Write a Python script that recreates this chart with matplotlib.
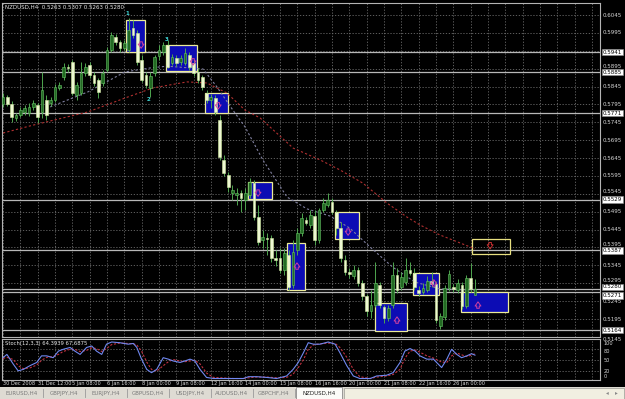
import matplotlib
matplotlib.use("Agg")
import matplotlib.pyplot as plt
import matplotlib.transforms as mtransforms
from matplotlib.patches import Rectangle

# ---------------- data ----------------
title_text = "NZDUSD,H4  0.5263 0.5307 0.5263 0.5280"
stoch_text = "Stoch(12,3,3) 64.3939 67.6875"

opens = [0.5796, 0.5816, 0.5796, 0.5757, 0.5765, 0.5774, 0.5771, 0.5788, 0.5793, 0.5774,
         0.5807, 0.5799, 0.5807, 0.5841, 0.5872, 0.5900, 0.5914, 0.5821, 0.5827, 0.5883,
         0.5905, 0.5877, 0.5863, 0.5855, 0.5891, 0.5947, 0.5983, 0.5970, 0.5953, 0.5947,
         0.6009, 0.5995, 0.5919, 0.5877, 0.5841, 0.5883, 0.5930, 0.5942, 0.5961, 0.5911,
         0.5925, 0.5914, 0.5911, 0.5933, 0.5911, 0.5886, 0.5872, 0.5827, 0.5807, 0.5813,
         0.5751, 0.5640, 0.5598, 0.5547, 0.5542, 0.5547, 0.5528, 0.5542, 0.5575, 0.5480,
         0.5416, 0.5421, 0.5421, 0.5366, 0.5366, 0.5332, 0.5374, 0.5290, 0.5388, 0.5435,
         0.5472, 0.5458, 0.5483, 0.5416, 0.5500, 0.5514, 0.5522, 0.5494, 0.5449, 0.5360,
         0.5326, 0.5315, 0.5332, 0.5296, 0.5259, 0.5217, 0.5234, 0.5290, 0.5229, 0.5198,
         0.5234, 0.5318, 0.5284, 0.5298, 0.5332, 0.5324, 0.5276, 0.5270, 0.5276, 0.5301,
         0.5293, 0.5175, 0.5200, 0.5282, 0.5284, 0.5276, 0.5290, 0.5231, 0.5310, 0.5263]
highs = [0.5827, 0.5821, 0.5804, 0.5771, 0.5788, 0.5793, 0.5799, 0.5807, 0.5799, 0.5886,
         0.5821, 0.5816, 0.5852, 0.5858, 0.5911, 0.5908, 0.5919, 0.5858, 0.5914, 0.5911,
         0.5914, 0.5886, 0.5869, 0.5891, 0.5956, 0.5997, 0.5992, 0.5975, 0.5975, 0.6037,
         0.6031, 0.6003, 0.5933, 0.5886, 0.5886, 0.5933, 0.5961, 0.5970, 0.5975, 0.5936,
         0.5933, 0.5933, 0.5953, 0.5942, 0.5919, 0.5897, 0.5877, 0.5835, 0.5824, 0.5821,
         0.5765, 0.5654, 0.5606, 0.5570, 0.5561, 0.5556, 0.5561, 0.5589, 0.5584, 0.5514,
         0.5444, 0.5435, 0.5430, 0.5388, 0.5394, 0.5394, 0.5388, 0.5416, 0.5449, 0.5491,
         0.5480, 0.5500, 0.5500, 0.5505, 0.5533, 0.5547, 0.5533, 0.5500, 0.5466, 0.5374,
         0.5338, 0.5346, 0.5340, 0.5304, 0.5265, 0.5276, 0.5354, 0.5298, 0.5234, 0.5234,
         0.5354, 0.5338, 0.5326, 0.5366, 0.5354, 0.5338, 0.5287, 0.5296, 0.5315, 0.5326,
         0.5301, 0.5212, 0.5290, 0.5332, 0.5293, 0.5307, 0.5298, 0.5318, 0.5352, 0.5307]
lows = [0.5788, 0.5791, 0.5746, 0.5749, 0.5760, 0.5765, 0.5763, 0.5779, 0.5743, 0.5757,
        0.5751, 0.5791, 0.5802, 0.5835, 0.5863, 0.5886, 0.5821, 0.5807, 0.5821, 0.5874,
        0.5869, 0.5846, 0.5813, 0.5846, 0.5886, 0.5942, 0.5961, 0.5942, 0.5947, 0.5942,
        0.5981, 0.5905, 0.5858, 0.5841, 0.5816, 0.5874, 0.5919, 0.5933, 0.5897, 0.5905,
        0.5902, 0.5905, 0.5905, 0.5891, 0.5874, 0.5855, 0.5835, 0.5799, 0.5785, 0.5765,
        0.5640, 0.5595, 0.5550, 0.5528, 0.5514, 0.5494, 0.5500, 0.5533, 0.5472, 0.5402,
        0.5394, 0.5374, 0.5354, 0.5343, 0.5324, 0.5318, 0.5276, 0.5282, 0.5374, 0.5427,
        0.5458, 0.5449, 0.5402, 0.5407, 0.5494, 0.5508, 0.5489, 0.5430, 0.5354, 0.5318,
        0.5310, 0.5307, 0.5287, 0.5248, 0.5203, 0.5198, 0.5229, 0.5226, 0.5184, 0.5189,
        0.5226, 0.5268, 0.5276, 0.5290, 0.5318, 0.5276, 0.5259, 0.5265, 0.5270, 0.5284,
        0.5184, 0.5166, 0.5192, 0.5273, 0.5270, 0.5268, 0.5223, 0.5226, 0.5270, 0.5263]
closes = [0.5816, 0.5796, 0.5760, 0.5765, 0.5779, 0.5785, 0.5788, 0.5799, 0.5760, 0.5835,
          0.5765, 0.5807, 0.5844, 0.5849, 0.5900, 0.5897, 0.5827, 0.5849, 0.5883, 0.5900,
          0.5877, 0.5855, 0.5830, 0.5883, 0.5947, 0.5989, 0.5970, 0.5953, 0.5967, 0.6003,
          0.5989, 0.5914, 0.5863, 0.5849, 0.5874, 0.5928, 0.5947, 0.5961, 0.5900, 0.5928,
          0.5911, 0.5925, 0.5939, 0.5900, 0.5883, 0.5863, 0.5844, 0.5807, 0.5816, 0.5774,
          0.5648, 0.5603, 0.5564, 0.5556, 0.5547, 0.5533, 0.5547, 0.5578, 0.5480, 0.5410,
          0.5424, 0.5419, 0.5366, 0.5360, 0.5332, 0.5380, 0.5284, 0.5382, 0.5435, 0.5477,
          0.5463, 0.5486, 0.5416, 0.5500, 0.5519, 0.5528, 0.5494, 0.5449, 0.5366, 0.5326,
          0.5321, 0.5332, 0.5296, 0.5259, 0.5217, 0.5234, 0.5296, 0.5234, 0.5198, 0.5226,
          0.5318, 0.5276, 0.5312, 0.5332, 0.5324, 0.5284, 0.5268, 0.5282, 0.5301, 0.5293,
          0.5192, 0.5203, 0.5282, 0.5321, 0.5279, 0.5296, 0.5231, 0.5310, 0.5279, 0.5280]

time_labels = ["30 Dec 2008", "31 Dec 12:00", "5 Jan 08:00", "6 Jan 16:00", "8 Jan 00:00",
               "9 Jan 08:00", "12 Jan 16:00", "14 Jan 00:00", "15 Jan 08:00", "16 Jan 16:00",
               "20 Jan 00:00", "21 Jan 08:00", "22 Jan 16:00", "26 Jan 00:00"]
time_label_bars = [0, 8, 16, 24, 32, 40, 48, 56, 64, 72, 80, 88, 96, 104]

price_ticks = [0.6045, 0.5995, 0.5945, 0.5895, 0.5845, 0.5795, 0.5745, 0.5695, 0.5645,
               0.5595, 0.5545, 0.5495, 0.5445, 0.5395, 0.5345, 0.5295, 0.5245, 0.5195, 0.5145]
level_prices = [0.5941, 0.5885, 0.5771, 0.5529, 0.5387, 0.5271, 0.5280, 0.5164]

ma_fast_x = [10.9, 19.6, 28.2, 34.0, 37.9, 46.2, 49.4, 53.1, 55.9, 60.0, 65.6, 70.2, 75.5,
             80.1, 84.8, 90.0, 95.2, 101.0, 109.0]
ma_fast_v = [0.5788, 0.5830, 0.5886, 0.5897, 0.5902, 0.5894, 0.5844, 0.5779, 0.5732, 0.5640,
             0.5536, 0.5503, 0.5483, 0.5449, 0.5396, 0.5340, 0.5298, 0.5279, 0.5276]
ma_slow_x = [0, 6.9, 14.8, 19.6, 28.2, 34.6, 42.5, 47.1, 51.7, 55.9, 59.4, 67.0, 73.2, 77.8,
             83.1, 88.7, 93.3, 96.3, 100.9, 105.5, 109.0]
ma_slow_v = [0.5715, 0.5737, 0.5760, 0.5774, 0.5813, 0.5841, 0.5858, 0.5855, 0.5827, 0.5779,
             0.5757, 0.5673, 0.5640, 0.5612, 0.5575, 0.5519, 0.5480, 0.5458, 0.5430, 0.5408, 0.5391]

stoch_x = [0, 0.9, 2.4, 3.5, 4.7, 6.2, 7.8, 8.9, 10.1, 11.6, 12.8, 13.9, 15.5, 16.6, 17.8,
           19.3, 20.5, 21.6, 22.8, 23.9, 25.1, 27, 28.9, 30.1, 30.9, 32, 33.2, 34.3, 35.5,
           37, 38.2, 39.3, 40.9, 42, 43.2, 44.3, 45.5, 47, 48.6, 53.2, 55.5, 56.7, 58.6,
           60.9, 63.2, 65.5, 67, 68.2, 69.4, 70.5, 71.7, 73.2, 75.1, 76.7, 77.8, 79.4, 80.9,
           82.4, 84.8, 86.3, 88.6, 90.1, 91.7, 92.8, 94, 95.2, 96.3, 97.9, 99.4, 101.3,
           102.5, 103.6, 104.8, 105.9, 107.1, 108.2, 109]
stoch_main = [57, 66, 39, 21, 25, 35, 44, 62, 62, 57, 75, 80, 85, 75, 66, 85, 89, 75, 66, 94,
              100, 98, 94, 96, 85, 53, 25, 16, 25, 57, 53, 48, 44, 48, 53, 48, 25, 3, 0, 0,
              0, 5, 5, 3, 0, 7, 25, 44, 71, 98, 94, 94, 100, 94, 71, 35, 7, 0, 0, 7,
              9, 16, 44, 75, 82, 75, 62, 53, 53, 30, 53, 80, 66, 57, 62, 68, 64]
stoch_signal = [55, 58, 52, 35, 27, 29, 37, 50, 58, 60, 66, 74, 80, 80, 74, 77, 84, 82, 74, 82,
                93, 97, 96, 95, 92, 75, 45, 25, 20, 35, 46, 52, 48, 46, 48, 50, 40, 15, 3, 0,
                0, 2, 4, 4, 2, 3, 12, 30, 52, 80, 92, 95, 97, 96, 85, 58, 25, 5, 0, 4,
                7, 11, 25, 55, 75, 78, 72, 62, 56, 45, 44, 62, 70, 65, 60, 64, 68]
stoch_levels = [20, 50, 80]
stoch_scale_labels = [100, 80, 50, 20, 0]

zone_x0 = [28.4, 37.6, 46.7, 56.6, 65.6, 76.7, 85.9, 94.7, 105.8]
zone_x1 = [32.8, 44.8, 52.0, 62.1, 69.7, 82.2, 93.3, 100.7, 116.6]
zone_lo = [0.5942, 0.5888, 0.5771, 0.5530, 0.5276, 0.5419, 0.5161, 0.5262, 0.5215]
zone_hi = [0.6031, 0.5961, 0.5827, 0.5578, 0.5407, 0.5494, 0.5240, 0.5324, 0.5270]
arrow_x = [31.9, 43.9, 49.7, 58.9, 67.9, 79.7, 91.0, 99.5, 109.7]
arrow_y = [0.5961, 0.5914, 0.5791, 0.5547, 0.5343, 0.5438, 0.5192, 0.5296, 0.5234]
arrow_dir = ["down", "down", "down", "down", "up", "down", "up", "up", "up"]

target_x0, target_x1 = 108.3, 117.1
target_lo, target_hi = 0.5377, 0.5419
target_arrow_x, target_arrow_y = 112.5, 0.5400

wave_text = ["1", "2", "3"]
wave_x = [28.6, 33.7, 37.9]
wave_y = [0.6050, 0.5810, 0.5976]

tab_names = ["EURUSD,H4", "GBPJPY,H4", "EURJPY,H4", "GBPUSD,H4", "USDJPY,H4",
             "AUDUSD,H4", "GBPCHF,H4", "NZDUSD,H4"]

# ---------------- layout ----------------
W, H = 625, 399
fig = plt.figure(figsize=(W / 100, H / 100), dpi=100, facecolor="black")


def px_axes(x0, y0, x1, y1):
    return fig.add_axes([x0 / W, 1 - y1 / H, (x1 - x0) / W, (y1 - y0) / H])


BAR_PX = 4.33
ax = px_axes(2, 3, 600, 337)
ax_st = px_axes(2, 339, 600, 379.5)
for a in (ax, ax_st):
    a.set_facecolor("black")
    a.set_xticks([])
    a.set_yticks([])
    for s in a.spines.values():
        s.set_color("#b4b4b4")
        s.set_linewidth(0.8)
xmin = (2 - 3) / BAR_PX
xmax = (600 - 3) / BAR_PX
ax.set_xlim(xmin, xmax)
ax_st.set_xlim(xmin, xmax)
ax.set_ylim(0.51447, 0.60786)
ax_st.set_ylim(-2.7, 108.2)

grid_kw = dict(color="#6c6c6c", lw=0.6, linestyle=(0, (1.5, 2.0)), zorder=0.5)
for b in range(0, 140, 4):
    ax.axvline(b, **grid_kw)
    ax_st.axvline(b, **grid_kw)
for p in price_ticks:
    ax.axhline(p, **grid_kw)
for v in stoch_levels:
    ax_st.axhline(v, **grid_kw)

# level lines
for p in level_prices:
    ax.axhline(p, color="#b8b8b8", lw=0.9, zorder=1.5)

# zones
for x0, x1, lo, hi in zip(zone_x0, zone_x1, zone_lo, zone_hi):
    ax.add_patch(Rectangle((x0, lo), x1 - x0, hi - lo, facecolor="#0c0cb4",
                           edgecolor="#ecec98", lw=0.9, zorder=2))
ax.add_patch(Rectangle((target_x0, target_lo), target_x1 - target_x0, target_hi - target_lo,
                       facecolor="none", edgecolor="#e8e080", lw=0.9, zorder=2))

# moving averages
ax.plot(ma_slow_x, ma_slow_v, color="#b03030", lw=0.8, linestyle=(0, (2, 2)), zorder=2.5)
ax.plot(ma_fast_x, ma_fast_v, color="#8080a0", lw=0.8, linestyle=(0, (2, 2)), zorder=2.5)

# candles
xs = list(range(len(closes)))
ax.vlines(xs, lows, highs, colors="#4fa64f", lw=0.7, zorder=3)
bx, bb, bh, rx, rb, rh = [], [], [], [], [], []
for i, (o, c) in enumerate(zip(opens, closes)):
    h = max(abs(c - o), 0.00005)
    if c >= o:
        bx.append(i); bb.append(o); bh.append(h)
    else:
        rx.append(i); rb.append(c); rh.append(h)
ax.bar(bx, bh, bottom=bb, width=0.62, color="#236b23", edgecolor="#66c466", lw=0.4, zorder=4)
ax.bar(rx, rh, bottom=rb, width=0.62, color="#eef8d2", edgecolor="#cfe8a0", lw=0.4, zorder=4)


# hollow arrows (signal marks)
def draw_arrow(x, y, direction, color):
    half = 0.0009
    head = y - half if direction == "down" else y + half
    tail = y + half if direction == "down" else y - half
    ax.annotate("", xy=(x, head), xytext=(x, tail),
                arrowprops=dict(arrowstyle="simple,head_length=0.5,head_width=0.7,tail_width=0.3",
                                facecolor="none", edgecolor=color, lw=0.7,
                                shrinkA=0, shrinkB=0, mutation_scale=6),
                zorder=6)


for x, y, d in zip(arrow_x, arrow_y, arrow_dir):
    draw_arrow(x, y, d, "#d040a0")
draw_arrow(target_arrow_x, target_arrow_y, "down", "#c83030")

for t, x, y in zip(wave_text, wave_x, wave_y):
    ax.text(x, y, t, color="#40d8d8", fontsize=4, ha="center", va="center", zorder=6,
            fontweight="bold")

# title
ax.text(0.005, 0.995, title_text, transform=ax.transAxes, color="#e8e8e8", fontsize=4,
        ha="left", va="top", zorder=7)

# price labels (grid labels partly hidden behind level boxes, as in the terminal)
tr = mtransforms.blended_transform_factory(ax.transAxes, ax.transData)
for p in price_ticks:
    near = [lv for lv in level_prices if abs(lv - p) < 0.0021]
    if any(abs(lv - p) < 0.0006 for lv in near):
        continue
    ypos, va = p, "center"
    if near:
        lv = max(near) if p > max(near) else min(near)
        if p > lv:
            ypos, va = max(p, lv + 0.0010), "bottom"
        else:
            ypos, va = min(p, lv - 0.0010), "top"
    ax.text(1.005, ypos, f"{p:.4f}", transform=tr, color="#d8d8d8", fontsize=4,
            ha="left", va=va, clip_on=False)
for p in level_prices:
    va = "center"
    ypos = p
    if p == 0.5280:
        va, ypos = "bottom", p - 0.0002
    elif p == 0.5271:
        va, ypos = "top", p - 0.0003
    ax.text(1.005, ypos, f"{p:.4f}", transform=tr, color="black", fontsize=4,
            ha="left", va=va, clip_on=False,
            bbox=dict(boxstyle="square,pad=0.12", facecolor="white", edgecolor="#909090", lw=0.4))

# stochastic
ax_st.plot(stoch_x, stoch_signal, color="#c03040", lw=0.8, linestyle=(0, (2, 1.5)), zorder=3)
ax_st.plot(stoch_x, stoch_main, color="#7088f0", lw=0.8, zorder=4)
ax_st.text(0.005, 0.88, stoch_text, transform=ax_st.transAxes, color="#e8e8e8", fontsize=3.8,
           ha="left", va="center")
tr2 = mtransforms.blended_transform_factory(ax_st.transAxes, ax_st.transData)
for v in stoch_scale_labels:
    if v == 100:
        ypos, va = 103, "top"
    elif v == 80:
        ypos, va = 82, "top"
    elif v == 0:
        ypos, va = 0, "bottom"
    else:
        ypos, va = v, "center"
    ax_st.text(1.006, ypos, str(v), transform=tr2, color="#d8d8d8", fontsize=3.6,
               ha="left", va=va, clip_on=False)

# time labels
tr3 = mtransforms.blended_transform_factory(ax_st.transData, ax_st.transAxes)
for b, lab in zip(time_label_bars, time_labels):
    ax_st.text(b, -0.03, lab, transform=tr3, color="#d8d8d8", fontsize=3.6,
               ha="left", va="top", clip_on=False)

# tab bar
ax_tab = px_axes(0, 387, 625, 399)
ax_tab.set_xlim(0, 625)
ax_tab.set_ylim(12, 0)
ax_tab.set_facecolor("#dedbd3")
ax_tab.set_xticks([]); ax_tab.set_yticks([])
for s in ax_tab.spines.values():
    s.set_visible(False)
tab_w = 42
for i, name in enumerate(tab_names):
    x0 = 1 + tab_w * i if i < 7 else 296
    x1 = x0 + tab_w if i < 7 else 342
    if i == 7:
        ax_tab.add_patch(Rectangle((x0, 0), x1 - x0, 12, facecolor="#fbfbf8",
                                   edgecolor="#8a8a8a", lw=0.6))
        col = "#202020"
    else:
        ax_tab.plot([x1, x1], [2, 10], color="#9a9a9a", lw=0.6)
        col = "#7a7a7a"
    ax_tab.text((x0 + x1) / 2, 6, name, color=col, fontsize=4, ha="center", va="center")
ax_tab.add_patch(Rectangle((344, 0.5), 280, 11, facecolor="#f1efe1", edgecolor="#a8a8a0", lw=0.6))
ax_tab.text(607, 6, "\u25c2", color="#888888", fontsize=4, ha="center", va="center")
ax_tab.text(616, 6, "\u25b8", color="#888888", fontsize=4, ha="center", va="center")

fig.savefig("out.png", dpi=100, facecolor="black")
